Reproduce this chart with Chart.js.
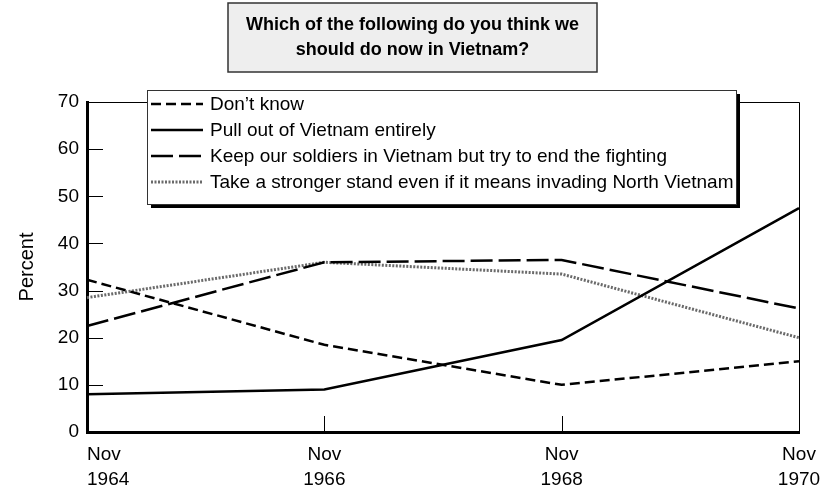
<!DOCTYPE html>
<html>
<head>
<meta charset="utf-8">
<script src="https://cdn.jsdelivr.net/npm/chart.js@4.4.0/dist/chart.umd.min.js"></script>
<style>
    html, body { margin: 0; padding: 0; background: #fff; }
    #wrap { position: relative; width: 823px; height: 492px; }
</style>
</head>
<body>
<div id="wrap"><canvas id="chart" width="823" height="492"></canvas></div>
<script>
// survey dates (x categories)
const surveyDates = [['Nov', '1964'], ['Nov', '1966'], ['Nov', '1968'], ['Nov', '1970']];

// percent answering each option
const dontKnow = [32.3, 18.5, 10, 15];
const pullOut = [8, 9, 19.5, 47.5];
const keepSoldiers = [22.5, 36, 36.5, 26.2];
const strongerStand = [28.5, 36, 33.5, 20];

const seriesNames = [
    'Don\u2019t know',
    'Pull out of Vietnam entirely',
    'Keep our soldiers in Vietnam but try to end the fighting',
    'Take a stronger stand even if it means invading North Vietnam',
];

const yMin = 0;
const yMax = 70;
const yStep = 10;

const titleLines = ['Which of the following do you think we', 'should do now in Vietnam?'];
const yAxisTitle = 'Percent';

const FONT = "'Liberation Sans', Arial, Helvetica, sans-serif";

// draws title box, legend box, thin frame, inner tick marks, x labels and axis title
const decorations = {
    id: 'decorations',
    afterDraw(chart) {
        const ctx = chart.ctx;
        const area = chart.chartArea;
        const xs = chart.scales.x;
        const ys = chart.scales.y;
        ctx.save();

        // top + right thin frame
        ctx.strokeStyle = '#000';
        ctx.lineWidth = 1;
        ctx.beginPath();
        ctx.moveTo(area.left, area.top + 0.5);
        ctx.lineTo(area.right + 0.5, area.top + 0.5);
        ctx.lineTo(area.right + 0.5, area.bottom);
        ctx.stroke();

        // y ticks pointing into the plot
        for (let v = yMin + yStep; v <= yMax - yStep; v += yStep) {
            const py = Math.round(ys.getPixelForValue(v)) + 0.5;
            ctx.beginPath();
            ctx.moveTo(area.left, py);
            ctx.lineTo(area.left + 16, py);
            ctx.stroke();
        }
        // x ticks pointing up (inner categories only)
        for (let i = 1; i < surveyDates.length - 1; i++) {
            const px = Math.round(xs.getPixelForValue(i)) + 0.5;
            ctx.beginPath();
            ctx.moveTo(px, area.bottom);
            ctx.lineTo(px, area.bottom - 16);
            ctx.stroke();
        }

        // x labels: first one starts at the axis, the others are centred
        ctx.fillStyle = '#000';
        ctx.font = '19px ' + FONT;
        ctx.textBaseline = 'middle';
        surveyDates.forEach((lines, i) => {
            const px = xs.getPixelForValue(i);
            ctx.textAlign = i === 0 ? 'left' : 'center';
            lines.forEach((t, j) => ctx.fillText(t, px, area.bottom + 23 + j * 25));
        });

        // axis title
        ctx.font = '20px ' + FONT;
        ctx.textAlign = 'center';
        ctx.translate(27, (area.top + area.bottom) / 2);
        ctx.rotate(-Math.PI / 2);
        ctx.fillText(yAxisTitle, 0, 0);
        ctx.setTransform(1, 0, 0, 1, 0, 0);

        // title box
        const tb = { x: 228, y: 3, w: 369, h: 69 };
        ctx.fillStyle = '#eeeeee';
        ctx.fillRect(tb.x, tb.y, tb.w, tb.h);
        ctx.strokeStyle = '#333';
        ctx.lineWidth = 1.5;
        ctx.strokeRect(tb.x, tb.y, tb.w, tb.h);
        ctx.fillStyle = '#000';
        ctx.font = 'bold 18px ' + FONT;
        ctx.fillText(titleLines[0], tb.x + tb.w / 2, 25);
        ctx.fillText(titleLines[1], tb.x + tb.w / 2, 50);

        // legend box with drop shadow
        const lb = { x: 147, y: 90, w: 589, h: 114 };
        ctx.fillStyle = '#000';
        ctx.fillRect(lb.x + 4, lb.y + 4, lb.w, lb.h);
        ctx.fillStyle = '#fff';
        ctx.fillRect(lb.x, lb.y, lb.w, lb.h);
        ctx.strokeStyle = '#333';
        ctx.lineWidth = 1;
        ctx.strokeRect(lb.x + 0.5, lb.y + 0.5, lb.w, lb.h);

        ctx.font = '19px ' + FONT;
        ctx.textAlign = 'left';
        chart.data.datasets.forEach((ds, i) => {
            const ry = lb.y + 14 + i * 26;
            ctx.strokeStyle = ds.borderColor;
            ctx.lineWidth = ds.borderWidth;
            ctx.setLineDash(ds.borderDash || []);
            ctx.beginPath();
            ctx.moveTo(151, ry);
            ctx.lineTo(203, ry);
            ctx.stroke();
            ctx.setLineDash([]);
            ctx.fillStyle = '#000';
            ctx.fillText(ds.label, 210, ry + 1);
        });

        ctx.restore();
    },
};

const lineStyle = (label, data, dash, color, width) => ({
    label: label,
    data: data,
    borderColor: color,
    borderWidth: width,
    borderDash: dash,
    pointRadius: 0,
    tension: 0,
    fill: false,
});

new Chart(document.getElementById('chart').getContext('2d'), {
    type: 'line',
    data: {
        labels: surveyDates,
        datasets: [
            lineStyle(seriesNames[0], dontKnow, [10, 5], '#000', 2.5),
            lineStyle(seriesNames[1], pullOut, [], '#000', 2.5),
            lineStyle(seriesNames[2], keepSoldiers, [22, 6], '#000', 2.5),
            lineStyle(seriesNames[3], strongerStand, [2, 1.5], '#6a6a6a', 3),
        ],
    },
    options: {
        responsive: false,
        animation: false,
        devicePixelRatio: 1,
        layout: { padding: { left: 0, right: 24, top: 102, bottom: 0 } },
        plugins: { legend: { display: false }, title: { display: false }, tooltip: { enabled: false } },
        scales: {
            x: {
                type: 'category',
                offset: false,
                grid: { display: false, drawTicks: false },
                border: { display: true, color: '#000', width: 3 },
                ticks: { display: false },
                afterFit(s) {
                    s.height = 60;
                    s.paddingLeft = 0;
                    s.paddingRight = 0;
                },
            },
            y: {
                min: yMin,
                max: yMax,
                grid: { display: false, drawTicks: false },
                border: { display: true, color: '#000', width: 3 },
                ticks: {
                    stepSize: yStep,
                    color: '#000',
                    font: { family: FONT, size: 19 },
                    padding: 8,
                },
                afterFit(s) { s.width = 87; },
            },
        },
    },
    plugins: [decorations],
});
</script>
</body>
</html>
